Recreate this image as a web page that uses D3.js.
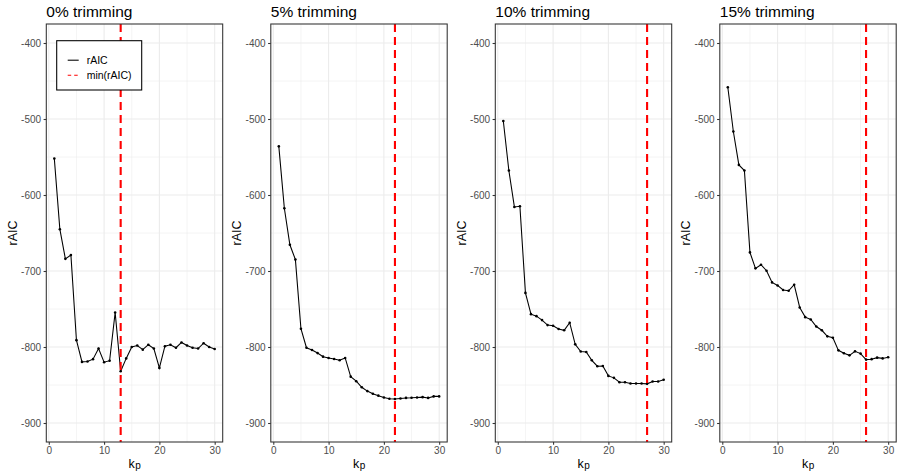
<!DOCTYPE html>
<html>
<head>
<meta charset="utf-8">
<title>rAIC by trimming</title>
<script src="https://d3js.org/d3.v7.min.js"></script>
<style>
  body { margin: 0; background: #fff; }
  svg text { font-family: "Liberation Sans", Arial, sans-serif; }
  .tick-label { fill: #4d4d4d; font-size: 10px; }
  .axis-title { fill: #000; font-size: 12.5px; }
  .panel-title { fill: #000; font-size: 15.5px; }
</style>
<script>
// number of components
var kp = [1, 2, 3, 4, 5, 6, 7, 8, 9, 10, 11, 12, 13, 14, 15,
          16, 17, 18, 19, 20, 21, 22, 23, 24, 25, 26, 27, 28, 29, 30];

var rAIC0 = [-552, -645, -684, -679, -791, -819.6, -819, -816, -802, -820,
             -818, -754.6, -832, -815, -800, -798, -803.5, -797, -802, -827.5,
             -799, -797, -801, -794, -798, -801, -802, -795, -800, -802.6];
var rAIC5 = [-536, -617.4, -665.5, -685, -776, -801, -804, -808, -812.7, -814.4,
             -815.7, -817.5, -814.4, -839, -845, -853, -858, -861.6, -864, -866.4,
             -868, -868.5, -867.7, -867, -866.8, -866.4, -866, -867, -865, -865];
var rAIC10 = [-502.6, -567.8, -615.7, -614.8, -728.8, -756.8, -759.4, -764.6, -771.2, -772,
              -776.4, -778, -768, -796.5, -806, -806.5, -817.5, -825.3, -825, -838,
              -840.6, -846.3, -846.3, -848, -848, -848, -848.5, -845.4, -845.4, -843];
var rAIC15 = [-458.3, -516.5, -560.4, -567.8, -675.5, -696.5, -691.7, -699.6, -715, -719,
              -725, -726, -718, -748, -760.7, -763.8, -773, -778, -786, -787.8,
              -804.4, -808.3, -811, -805.7, -808.7, -816.6, -816, -814, -815, -813.5];

var panelTitles = ["0% trimming", "5% trimming", "10% trimming", "15% trimming"];
var xTicks = [0, 10, 20, 30];
var yTicks = [-400, -500, -600, -700, -800, -900];
var legendLabels = ["rAIC", "min(rAIC)"];

function draw() {
  var series = [rAIC0, rAIC5, rAIC10, rAIC15];
  var W = 898, H = 475, panelW = W / 4;
  var plot = { left: 46.3, right: 222.7, top: 24, bottom: 442 };

  var svg = d3.select("body").append("svg")
      .attr("width", W).attr("height", H);

  var x = d3.scaleLinear().domain([-0.45, 31.45]).range([plot.left, plot.right]);
  var y = d3.scaleLinear().domain([-925, -375]).range([plot.bottom, plot.top]);

  series.forEach(function(vals, i) {
    var g = svg.append("g").attr("transform", "translate(" + (i * panelW) + ",0)");
    var pts = kp.map(function(k, j) { return { k: k, v: vals[j] }; });
    var minK = kp[d3.minIndex(vals)];

    // panel background + grid
    g.append("rect").attr("x", plot.left).attr("y", plot.top)
      .attr("width", plot.right - plot.left).attr("height", plot.bottom - plot.top)
      .attr("fill", "#fff");

    var minorX = [5, 15, 25], minorY = [-450, -550, -650, -750, -850];
    g.selectAll("line.minx").data(minorX).enter().append("line")
      .attr("x1", x).attr("x2", x).attr("y1", plot.top).attr("y2", plot.bottom)
      .attr("stroke", "#ebebeb").attr("stroke-width", 0.55);
    g.selectAll("line.miny").data(minorY).enter().append("line")
      .attr("y1", y).attr("y2", y).attr("x1", plot.left).attr("x2", plot.right)
      .attr("stroke", "#ebebeb").attr("stroke-width", 0.55);
    g.selectAll("line.majx").data(xTicks).enter().append("line")
      .attr("x1", x).attr("x2", x).attr("y1", plot.top).attr("y2", plot.bottom)
      .attr("stroke", "#ebebeb").attr("stroke-width", 1.07);
    g.selectAll("line.majy").data(yTicks).enter().append("line")
      .attr("y1", y).attr("y2", y).attr("x1", plot.left).attr("x2", plot.right)
      .attr("stroke", "#ebebeb").attr("stroke-width", 1.07);

    // data line + points
    var line = d3.line().x(function(d) { return x(d.k); }).y(function(d) { return y(d.v); });
    g.append("path").datum(pts).attr("d", line)
      .attr("fill", "none").attr("stroke", "#000").attr("stroke-width", 1.07);
    g.selectAll("circle").data(pts).enter().append("circle")
      .attr("cx", function(d) { return x(d.k); })
      .attr("cy", function(d) { return y(d.v); })
      .attr("r", 1.3).attr("fill", "#000");

    // min line
    g.append("line").attr("x1", x(minK)).attr("x2", x(minK))
      .attr("y1", plot.top).attr("y2", plot.bottom)
      .attr("stroke", "#ff0000").attr("stroke-width", 2.1)
      .attr("stroke-dasharray", "8,5");

    // panel border
    g.append("rect").attr("x", plot.left).attr("y", plot.top)
      .attr("width", plot.right - plot.left).attr("height", plot.bottom - plot.top)
      .attr("fill", "none").attr("stroke", "#333").attr("stroke-width", 1.07);

    // axes
    var xAxis = g.append("g").attr("transform", "translate(0," + plot.bottom + ")")
      .call(d3.axisBottom(x).tickValues(xTicks).tickSize(2.7).tickPadding(2.5));
    var yAxis = g.append("g").attr("transform", "translate(" + plot.left + ",0)")
      .call(d3.axisLeft(y).tickValues(yTicks).tickSize(2.7).tickPadding(2.5));
    [xAxis, yAxis].forEach(function(a) {
      a.select(".domain").remove();
      a.selectAll(".tick line").attr("stroke", "#333").attr("stroke-width", 1.07);
      a.selectAll(".tick text").attr("class", "tick-label")
        .attr("font-family", null).attr("font-size", null).attr("fill", null);
    });
    yAxis.selectAll(".tick text").text(function(d) { return "-" + Math.abs(d); });

    // axis titles (k with subscript p)
    var cx = (plot.left + plot.right) / 2;
    g.append("text").attr("class", "axis-title")
      .attr("x", cx - 3).attr("y", 467.5).attr("text-anchor", "middle").text("k");
    g.append("text").attr("class", "axis-title")
      .attr("x", cx + 3.5).attr("y", 469).attr("text-anchor", "middle")
      .style("font-size", "10px").text("p");

    g.append("text").attr("class", "axis-title")
      .attr("transform", "translate(16.5," + ((plot.top + plot.bottom) / 2) + ") rotate(-90)")
      .attr("text-anchor", "middle").text("rAIC");

    g.append("text").attr("class", "panel-title")
      .attr("x", plot.left).attr("y", 17).text(panelTitles[i]);

    // legend only in first panel
    if (i === 0) {
      var lg = g.append("g").attr("transform", "translate(56.7,40.7)");
      lg.append("rect").attr("width", 85).attr("height", 49.3)
        .attr("fill", "#fff").attr("stroke", "#000").attr("stroke-width", 1.07);
      lg.append("line").attr("x1", 11).attr("x2", 22).attr("y1", 19.5).attr("y2", 19.5)
        .attr("stroke", "#000").attr("stroke-width", 1.07);
      lg.append("line").attr("x1", 11).attr("x2", 22).attr("y1", 34.5).attr("y2", 34.5)
        .attr("stroke", "#ff0000").attr("stroke-width", 1.07).attr("stroke-dasharray", "3.5,3");
      lg.selectAll("text.lab").data(legendLabels).enter().append("text")
        .attr("x", 30).attr("y", function(d, j) { return 23.5 + j * 15; })
        .attr("font-size", "10.5px").attr("fill", "#000").text(function(d) { return d; });
    }
  });
}

window.onload = draw;
</script>
</head>
<body>
</body>
</html>
